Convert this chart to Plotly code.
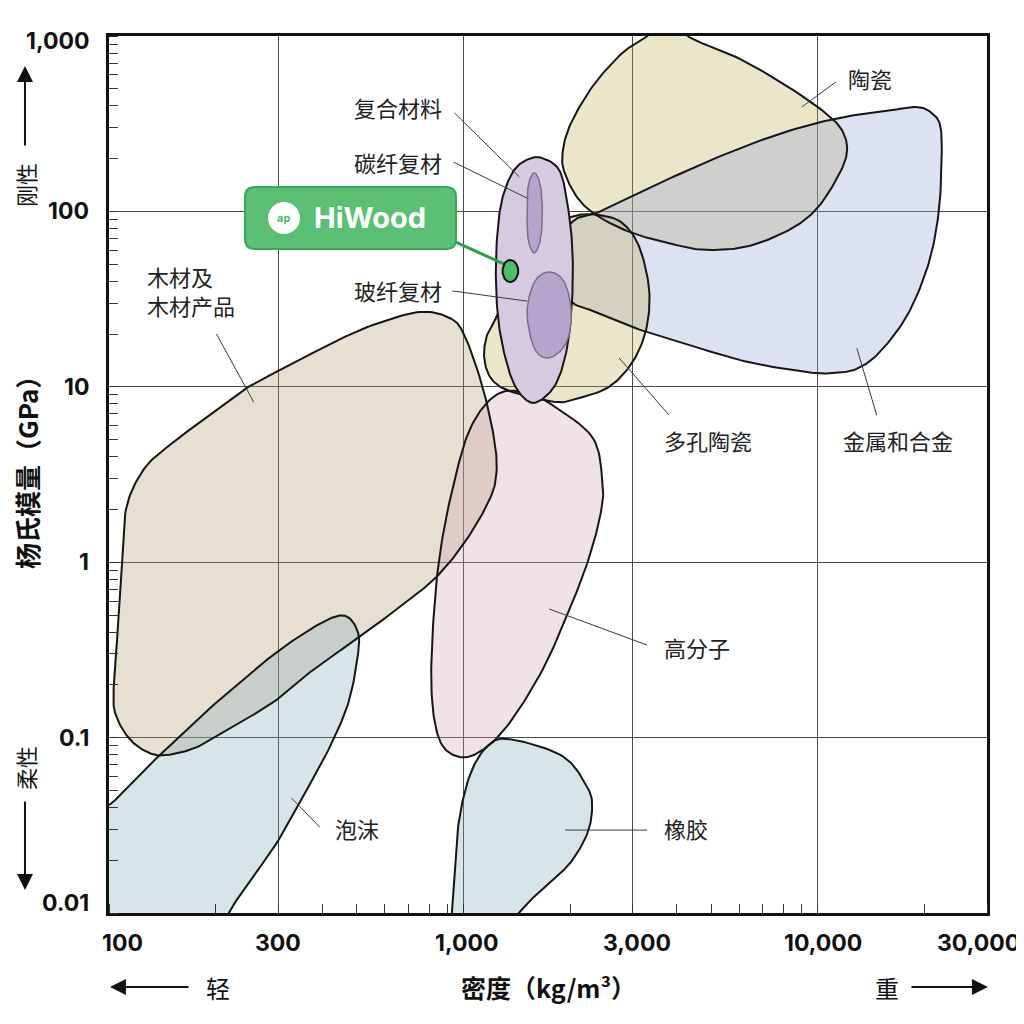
import numpy as np
import plotly.graph_objects as go

# 材料区域轮廓：密度 (kg/m³) / 杨氏模量 (GPa)
wood_rho = [555, 752, 914, 1006, 1132, 1222, 1239, 1183, 1019, 839, 661, 509, 376, 297, 223,
            177, 146, 130, 115, 105, 103, 106, 109, 112, 125, 146, 189, 245, 317, 427]
wood_E = [22.5, 26.7, 24.7, 19.7, 10, 4.98, 3.2, 2.26, 1.34, 0.824, 0.556, 0.375, 0.243, 0.164, 0.115,
          0.0883, 0.0796, 0.0817, 0.0969, 0.131, 0.18, 0.427, 1.03, 2.06, 3.36, 4.54, 6.73, 9.85, 13.0, 17.8]

foam_rho = [466, 500, 506, 477, 425, 361, 301, 251, 218, 193, 88, 88, 102, 120, 144, 182, 228, 281, 345, 417]
foam_E = [0.493, 0.416, 0.320, 0.166, 0.0931, 0.0502, 0.0261, 0.0154, 0.0101, 0.00615, 0.00615, 0.0339,
          0.0424, 0.0596, 0.0849, 0.133, 0.197, 0.281, 0.379, 0.474]

poly_rho = [1321, 1534, 1746, 2307, 2465, 2449, 2265, 1989, 1671, 1348, 1132, 975, 856, 812, 829, 873, 955, 1040, 1170]
poly_E = [9.46, 9.1, 8.08, 5.18, 2.94, 1.99, 1.07, 0.534, 0.243, 0.121, 0.085, 0.0775, 0.0969, 0.194, 0.585,
          1.39, 3.23, 5.67, 8.19]

rub_rho = [1349, 1902, 2233, 2307, 2233, 1989, 1690, 1439, 1222, 944, 948, 975, 1048, 1170]
rub_E = [0.098, 0.0785, 0.0523, 0.0402, 0.0282, 0.019, 0.0141, 0.0101, 0.00657, 0.00657, 0.0183, 0.0352, 0.0628, 0.0895]

cer_rho = [3758, 4331, 5875, 7925, 10260, 11690, 12070, 11250, 9860, 8280, 6390, 4930, 3980, 2991, 2415,
           2122, 1950, 1900, 1989, 2307, 2806, 3275]
cer_E = [1318, 987, 759, 540, 378, 291, 215, 151, 102, 78.3, 63.5, 60.2, 64.3, 75.4, 92.9,
         116, 157, 204, 303, 512, 800, 987]

met_rho = [2028, 2415, 3342, 5166, 7925, 11450, 15140, 18870, 20940, 22180, 22330, 21910, 20550, 18030,
           15140, 13040, 11250, 9430, 6390, 4331, 3275, 2415, 1989, 1746]
met_E = [87.1, 99.3, 136, 202, 280, 341, 369, 394, 364, 303, 189, 98, 50.8, 26.4,
         16.2, 12.8, 12.0, 12.1, 13.8, 17.3, 20.5, 26.4, 31.3, 52.9]

por_rho = [2415, 2806, 3133, 3342, 3275, 2991, 2576, 2122, 1828, 1374, 1207, 1146, 1161, 1239, 1393, 1690, 2055]
por_E = [95.4, 85.9, 62.7, 35.6, 21.1, 13.7, 10, 8.63, 8.19, 9.34, 10.9, 14.2, 19.2, 25.0, 46.3, 78.3, 94.2]

comp_rho = [1660, 1863, 1963, 2028, 2028, 1963, 1828, 1637, 1503, 1374, 1279, 1239, 1239, 1279, 1374, 1503]
comp_E = [202, 172, 112, 62.7, 32.5, 16.9, 10.5, 8.30, 8.41, 10.9, 18.5, 32.5, 62.7, 112, 166, 196]

cf_rho = [1585, 1648, 1670, 1648, 1585, 1524, 1512, 1524]
cf_E = [166, 141, 98, 68.7, 58.0, 68.7, 98, 141]

gf_rho = [1746, 1927, 2015, 1950, 1746, 1585, 1512, 1585]
gf_E = [45.2, 39.5, 26.4, 17.8, 14.6, 16.6, 26.4, 39.5]

hw_rho = [1355, 1405, 1429, 1405, 1355, 1308, 1289, 1308]
hw_E = [52.9, 50.7, 45.7, 41.3, 39.5, 41.3, 45.7, 50.7]

# 标签
labels = ["木材及<br>木材产品", "复合材料", "碳纤复材", "玻纤复材", "陶瓷", "多孔陶瓷", "金属和合金", "高分子", "泡沫", "橡胶"]
label_rho = [126, 884, 884, 884, 11970, 3640, 11610, 3640, 428, 3640]
label_E = [35.2, 394, 191, 35.6, 574, 4.98, 4.98, 0.329, 0.0306, 0.0306]
label_side = ["left", "right", "right", "right", "left", "left", "left", "left", "left", "left"]

leader_rho = [[201, 256], [944, 1439], [938, 1513], [931, 1513], [11250, 9010], [3802, 2749],
              [14650, 12880], [3297, 1746], [393, 327], [3297, 1936]]
leader_E = [[20.0, 8.19], [364, 157], [191, 119], [35.2, 30.8], [547, 394], [6.9, 14.6],
            [6.9, 16.6], [0.337, 0.541], [0.0309, 0.0453], [0.0297, 0.0297]]

link_rho = [948, 1303]
link_E = [67, 50.1]

x_ticks = [100, 300, 1000, 3000, 10000, 30000]
x_ticktext = ["100", "300", "1,000", "3,000", "10,000", "30,000"]
y_ticks = [0.01, 0.1, 1, 10, 100, 1000]
y_ticktext = ["0.01", "0.1", "1", "10", "100", "1,000"]


def closed_curve(xs, ys, n=14):
    # 闭合 Catmull-Rom 曲线（对数坐标下）
    p = np.column_stack([np.log10(xs), np.log10(ys)])
    m = len(p)
    pts = []
    for i in range(m):
        p0, p1, p2, p3 = p[i - 1], p[i], p[(i + 1) % m], p[(i + 2) % m]
        for t in np.linspace(0, 1, n, endpoint=False):
            pts.append(0.5 * (2 * p1 + (p2 - p0) * t + (2 * p0 - 5 * p1 + 4 * p2 - p3) * t ** 2
                              + (3 * p1 - p0 - 3 * p2 + p3) * t ** 3))
    pts.append(pts[0])
    pts = np.array(pts)
    return 10 ** pts[:, 0], 10 ** pts[:, 1]


regions = [
    (wood_rho, wood_E, "rgba(178,148,108,0.3)"),
    (foam_rho, foam_E, "rgba(125,168,178,0.3)"),
    (poly_rho, poly_E, "rgba(205,158,175,0.3)"),
    (rub_rho, rub_E, "rgba(125,168,178,0.3)"),
    (cer_rho, cer_E, "rgba(188,172,75,0.3)"),
    (met_rho, met_E, "rgba(142,158,215,0.3)"),
    (por_rho, por_E, "rgba(188,172,75,0.3)"),
]

fig = go.Figure()
curves = [closed_curve(r, e) for r, e, _ in regions]
for (cx, cy), (_, _, col) in zip(curves, regions):
    fig.add_trace(go.Scatter(x=cx, y=cy, mode="lines", fill="toself", fillcolor=col,
                             line=dict(width=0), hoverinfo="skip"))
for cx, cy in curves:
    fig.add_trace(go.Scatter(x=cx, y=cy, mode="lines", line=dict(color="#161616", width=2),
                             hoverinfo="skip"))

# 复合材料（不透明）
cx, cy = closed_curve(comp_rho, comp_E)
fig.add_trace(go.Scatter(x=cx, y=cy, mode="lines", fill="toself", fillcolor="#d5cbe1",
                         line=dict(color="#161616", width=2), hoverinfo="skip"))
for r, e in [(cf_rho, cf_E), (gf_rho, gf_E)]:
    cx, cy = closed_curve(r, e)
    fig.add_trace(go.Scatter(x=cx, y=cy, mode="lines", fill="toself", fillcolor="#b3a5cb",
                             line=dict(color="#7b6f88", width=1.5), hoverinfo="skip"))

# 标注引线
for r, e in zip(leader_rho, leader_E):
    fig.add_trace(go.Scatter(x=r, y=e, mode="lines", line=dict(color="#3a3a3a", width=1), hoverinfo="skip"))

# HiWood
fig.add_trace(go.Scatter(x=link_rho, y=link_E, mode="lines", line=dict(color="#2f9e4e", width=3), hoverinfo="skip"))
cx, cy = closed_curve(hw_rho, hw_E)
fig.add_trace(go.Scatter(x=cx, y=cy, mode="lines", fill="toself", fillcolor="#4dbd6b",
                         line=dict(color="#111", width=2), hoverinfo="skip"))

cjk = "Noto Sans CJK SC"
ann = []
for t, r, e, s in zip(labels, label_rho, label_E, label_side):
    ann.append(dict(text=t, x=np.log10(r), y=np.log10(e), xref="x", yref="y", xanchor=s,
                    yanchor="middle", align="left", showarrow=False,
                    font=dict(family=cjk, size=22, color="#222")))

x_shift = [13, 0, 3, 4, 5, -9]
for v, t, s in zip(x_ticks, x_ticktext, x_shift):
    ann.append(dict(text=t, x=np.log10(v), y=0, xref="x", yref="paper", xanchor="center",
                    yanchor="middle", yshift=-30, xshift=s, showarrow=False,
                    font=dict(family="Inter", size=23, color="#111", weight=700)))
y_shift = [10, 0, 0, 0, 0, -5]
for v, t, s in zip(y_ticks, y_ticktext, y_shift):
    ann.append(dict(text=t, x=0, y=np.log10(v), xref="paper", yref="y", xanchor="right",
                    yanchor="middle", xshift=-18, yshift=s, showarrow=False,
                    font=dict(family="Inter", size=23, color="#111", weight=700)))


def paper_text(text, x, y, size, bold=False, angle=0, family=cjk, color="#111"):
    return dict(text=text, x=x, y=y, xref="paper", yref="paper", xanchor="center", yanchor="middle",
                showarrow=False, textangle=angle,
                font=dict(family=family, size=size, color=color, weight=700 if bold else 400))


# 轴标题与方向
ann += [
    paper_text("密度（kg/m³）", 0.5, -0.0844, 25, bold=True),
    paper_text("杨氏模量（GPa）", -0.0934, 0.5097, 26, bold=True, angle=-90),
    paper_text("轻", 0.1241, -0.0844, 24),
    paper_text("重", 0.8861, -0.0844, 24),
    paper_text("刚性", -0.0957, 0.830, 22, angle=-90),
    paper_text("柔性", -0.0957, 0.1653, 22, angle=-90),
]
for hx, hy, ax, ay in [(0.0011, -0.0844, 80, 0), (1.0011, -0.0844, -78, 0),
                       (-0.0957, 0.9658, 0, 81), (-0.0957, 0.0262, 0, -90)]:
    ann.append(dict(text="", x=hx, y=hy, xref="paper", yref="paper", ax=ax, ay=ay,
                    showarrow=True, arrowhead=2, arrowsize=1.6, arrowwidth=2, arrowcolor="#111"))

# HiWood 标签框
x0, x1, y0, y1, rx, ry = 0.1549, 0.3952, 0.7571, 0.8278, 0.0114, 0.0114
box = (f"M {x0 + rx},{y0} L {x1 - rx},{y0} Q {x1},{y0} {x1},{y0 + ry} L {x1},{y1 - ry} "
       f"Q {x1},{y1} {x1 - rx},{y1} L {x0 + rx},{y1} Q {x0},{y1} {x0},{y1 - ry} "
       f"L {x0},{y0 + ry} Q {x0},{y0} {x0 + rx},{y0} Z")
shapes = [
    dict(type="path", path=box, xref="paper", yref="paper", fillcolor="#5cbf76",
         line=dict(color="#3aa85a", width=2)),
    dict(type="circle", xref="paper", yref="paper", x0=0.1811, x1=0.2175, y0=0.7742, y1=0.8107,
         fillcolor="white", line=dict(width=0)),
]
ann += [
    paper_text("HiWood", 0.2973, 0.7925, 29, bold=True, family="Inter", color="white"),
    paper_text("ap", 0.1993, 0.7925, 11, bold=True, family="Inter", color="#4bb96a"),
]

axis_common = dict(type="log", showgrid=True, gridcolor="#4a4a4a", gridwidth=1, showline=True,
                   linecolor="#111", linewidth=3, mirror=True, ticks="", showticklabels=False,
                   zeroline=False,
                   minor=dict(dtick="D1", ticks="inside", ticklen=9, tickwidth=1, tickcolor="#333",
                              showgrid=False))
# 页面自带 8px 边距，图尺寸相应缩小
fig.update_layout(
    width=1016, height=1016, showlegend=False,
    margin=dict(l=101, r=37, t=28, b=111),
    plot_bgcolor="white", paper_bgcolor="white",
    xaxis=dict(axis_common, range=[2, np.log10(30000)], tickvals=x_ticks),
    yaxis=dict(axis_common, range=[-2, 3], tickvals=y_ticks),
    annotations=ann, shapes=shapes,
)

fig.write_html("out.html")
